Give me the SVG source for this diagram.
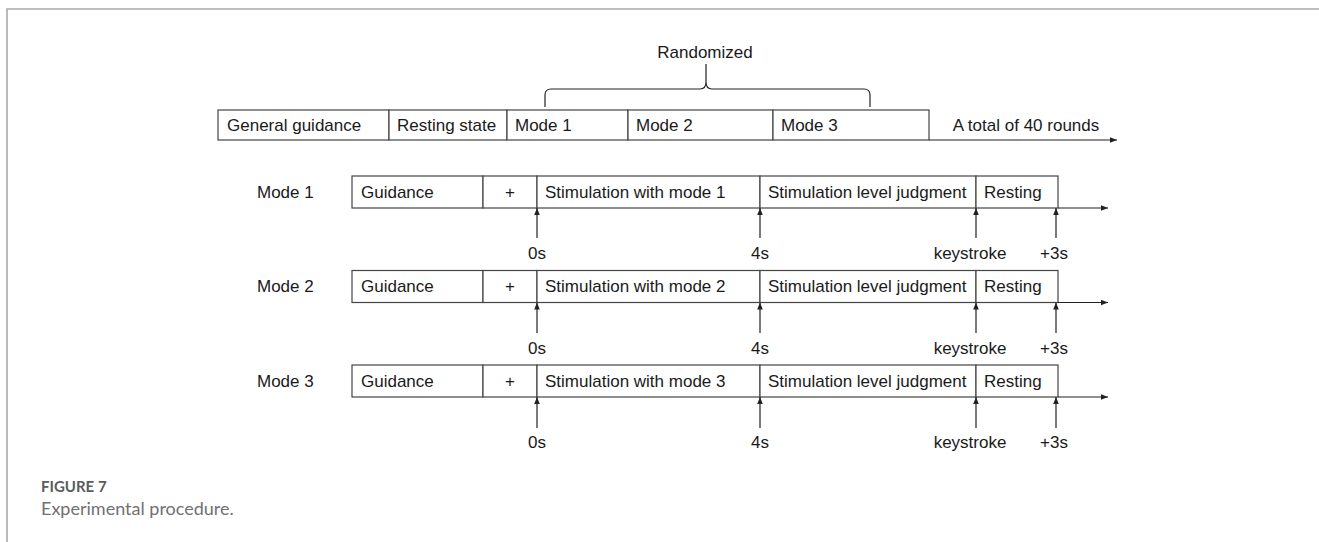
<svg xmlns="http://www.w3.org/2000/svg" width="1319" height="542" viewBox="0 0 1319 542">
<style>
.frame{stroke:#aaaaaa;stroke-width:1.6;fill:none}
.cell{fill:#ffffff;stroke:#444444;stroke-width:1.2}
.t{font-family:"Liberation Sans",Arial,sans-serif;font-size:17px;fill:#1a1a1a}
.c{text-anchor:middle}
.ln{stroke:#222222;stroke-width:1.2;fill:none}
.cap1{font-family:Lato,"Open Sans",sans-serif;font-weight:bold;font-size:15px;fill:#5a5b5d}
.cap2{font-family:Lato,"Open Sans",sans-serif;font-size:18px;fill:#707173}
</style>
<defs>
<marker id="ah" viewBox="0 0 10 10" refX="10" refY="5" markerWidth="7" markerHeight="7" markerUnits="userSpaceOnUse" orient="auto">
<path d="M0,1 L10,5 L0,9 z" fill="#222222"/>
</marker>
</defs>
<rect width="1319" height="542" fill="#ffffff"/>
<path class="frame" d="M7,542 V9 H1319"/>

<g id="randomized">
<text class="t c" x="705" y="58">Randomized</text>
<path class="ln" d="M545,107 V95 Q545,89 551,89 H700 Q706,89 706,82 V64 M706,64 V82 Q706,89 712,89 H864 Q870,89 870,95 V107"/>
</g>

<g id="top-general-guidance"><rect class="cell" x="218" y="110" width="171" height="30"/><text class="t" x="227" y="131">General guidance</text></g>
<g id="top-resting-state"><rect class="cell" x="389" y="110" width="118" height="30"/><text class="t" x="397" y="131">Resting state</text></g>
<g id="top-mode1"><rect class="cell" x="507" y="110" width="121" height="30"/><text class="t" x="515" y="131">Mode 1</text></g>
<g id="top-mode2"><rect class="cell" x="628" y="110" width="145" height="30"/><text class="t" x="636" y="131">Mode 2</text></g>
<g id="top-mode3"><rect class="cell" x="773" y="110" width="156" height="30"/><text class="t" x="781" y="131">Mode 3</text></g>
<g id="top-total"><text class="t c" x="1026" y="131">A total of 40 rounds</text></g>

<g id="row1">
<text class="t" x="257" y="198">Mode 1</text>
<g id="r1-guidance"><rect class="cell" x="352" y="176" width="131" height="32"/><text class="t" x="361" y="198">Guidance</text></g>
<g id="r1-fix"><rect class="cell" x="483" y="176" width="54" height="32"/><text class="t c" x="510" y="198">+</text></g>
<g id="r1-stim"><rect class="cell" x="537" y="176" width="223" height="32"/><text class="t" x="545" y="198">Stimulation with mode 1</text></g>
<g id="r1-judge"><rect class="cell" x="760" y="176" width="216" height="32"/><text class="t" x="768" y="198">Stimulation level judgment</text></g>
<g id="r1-rest"><rect class="cell" x="976" y="176" width="82" height="32"/><text class="t" x="984" y="198">Resting</text></g>
<text class="t c" x="537" y="259">0s</text>
<text class="t c" x="760" y="259">4s</text>
<text class="t c" x="970" y="259">keystroke</text>
<text class="t c" x="1054" y="259">+3s</text>
</g>

<g id="row2">
<text class="t" x="257" y="292">Mode 2</text>
<g id="r2-guidance"><rect class="cell" x="352" y="270.5" width="131" height="32"/><text class="t" x="361" y="292">Guidance</text></g>
<g id="r2-fix"><rect class="cell" x="483" y="270.5" width="54" height="32"/><text class="t c" x="510" y="292">+</text></g>
<g id="r2-stim"><rect class="cell" x="537" y="270.5" width="223" height="32"/><text class="t" x="545" y="292">Stimulation with mode 2</text></g>
<g id="r2-judge"><rect class="cell" x="760" y="270.5" width="216" height="32"/><text class="t" x="768" y="292">Stimulation level judgment</text></g>
<g id="r2-rest"><rect class="cell" x="976" y="270.5" width="82" height="32"/><text class="t" x="984" y="292">Resting</text></g>
<text class="t c" x="537" y="353.5">0s</text>
<text class="t c" x="760" y="353.5">4s</text>
<text class="t c" x="970" y="353.5">keystroke</text>
<text class="t c" x="1054" y="353.5">+3s</text>
</g>

<g id="row3">
<text class="t" x="257" y="387">Mode 3</text>
<g id="r3-guidance"><rect class="cell" x="352" y="365" width="131" height="32"/><text class="t" x="361" y="387">Guidance</text></g>
<g id="r3-fix"><rect class="cell" x="483" y="365" width="54" height="32"/><text class="t c" x="510" y="387">+</text></g>
<g id="r3-stim"><rect class="cell" x="537" y="365" width="223" height="32"/><text class="t" x="545" y="387">Stimulation with mode 3</text></g>
<g id="r3-judge"><rect class="cell" x="760" y="365" width="216" height="32"/><text class="t" x="768" y="387">Stimulation level judgment</text></g>
<g id="r3-rest"><rect class="cell" x="976" y="365" width="82" height="32"/><text class="t" x="984" y="387">Resting</text></g>
<text class="t c" x="537" y="448">0s</text>
<text class="t c" x="760" y="448">4s</text>
<text class="t c" x="970" y="448">keystroke</text>
<text class="t c" x="1054" y="448">+3s</text>
</g>

<g id="connectors">
<line class="ln" x1="929" y1="140" x2="1117" y2="140" marker-end="url(#ah)"/>
<line class="ln" x1="1058" y1="208" x2="1108" y2="208" marker-end="url(#ah)"/>
<line class="ln" x1="537" y1="238" x2="537" y2="208" marker-end="url(#ah)"/>
<line class="ln" x1="760" y1="238" x2="760" y2="208" marker-end="url(#ah)"/>
<line class="ln" x1="976" y1="238" x2="976" y2="208" marker-end="url(#ah)"/>
<line class="ln" x1="1056" y1="238" x2="1056" y2="208" marker-end="url(#ah)"/>
<line class="ln" x1="1058" y1="302.5" x2="1108" y2="302.5" marker-end="url(#ah)"/>
<line class="ln" x1="537" y1="333" x2="537" y2="302.5" marker-end="url(#ah)"/>
<line class="ln" x1="760" y1="333" x2="760" y2="302.5" marker-end="url(#ah)"/>
<line class="ln" x1="976" y1="333" x2="976" y2="302.5" marker-end="url(#ah)"/>
<line class="ln" x1="1056" y1="333" x2="1056" y2="302.5" marker-end="url(#ah)"/>
<line class="ln" x1="1058" y1="397" x2="1108" y2="397" marker-end="url(#ah)"/>
<line class="ln" x1="537" y1="428" x2="537" y2="397" marker-end="url(#ah)"/>
<line class="ln" x1="760" y1="428" x2="760" y2="397" marker-end="url(#ah)"/>
<line class="ln" x1="976" y1="428" x2="976" y2="397" marker-end="url(#ah)"/>
<line class="ln" x1="1056" y1="428" x2="1056" y2="397" marker-end="url(#ah)"/>
</g>

<g id="caption">
<text class="cap1" x="41" y="492">FIGURE 7</text>
<text class="cap2" x="41" y="515">Experimental procedure.</text>
</g>
</svg>
